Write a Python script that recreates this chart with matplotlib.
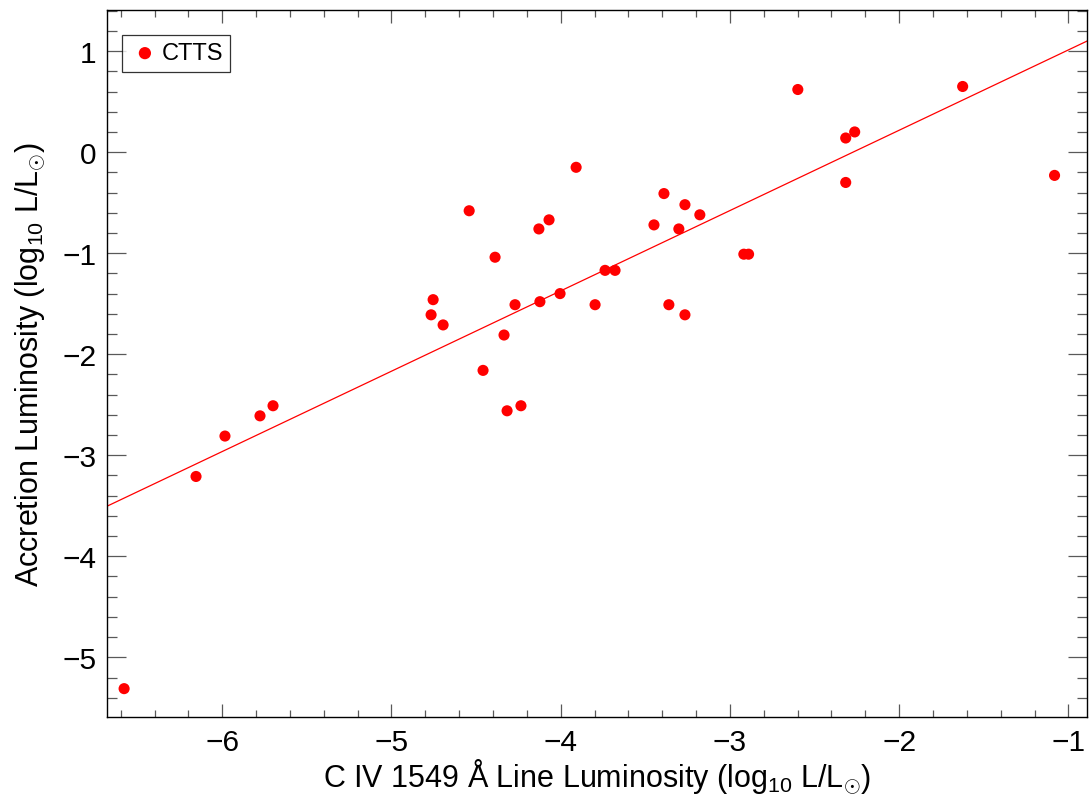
import matplotlib
matplotlib.use("Agg")
import matplotlib.pyplot as plt
from matplotlib.ticker import MultipleLocator
import numpy as np

# C IV 1549 A line luminosity (log10 L/Lsun)
civ_lum = [-6.58, -6.155, -5.984, -5.777, -5.700, -4.766, -4.754, -4.695, -4.541,
           -4.459, -4.388, -4.335, -4.317, -4.270, -4.235, -4.129, -4.123, -4.069,
           -4.004, -3.909, -3.797, -3.738, -3.679, -3.449, -3.390, -3.361, -3.302,
           -3.266, -3.266, -3.178, -2.918, -2.890, -2.599, -2.316, -2.316, -2.263,
           -1.625, -1.082]
# Accretion luminosity (log10 L/Lsun)
acc_lum = [-5.31, -3.21, -2.81, -2.61, -2.51, -1.61, -1.46, -1.71, -0.58,
           -2.16, -1.04, -1.81, -2.56, -1.51, -2.51, -0.76, -1.48, -0.67,
           -1.40, -0.15, -1.51, -1.17, -1.17, -0.72, -0.41, -1.51, -0.76,
           -0.52, -1.61, -0.62, -1.01, -1.01, 0.62, 0.14, -0.30, 0.20,
           0.65, -0.23]
# best-fit relation
fit_slope = 0.795
fit_intercept = 1.807

plt.rcParams['font.family'] = ['Liberation Sans', 'DejaVu Sans']
plt.rcParams['mathtext.fontset'] = 'custom'
plt.rcParams['mathtext.rm'] = 'Liberation Sans'
plt.rcParams['mathtext.it'] = 'Liberation Sans'

fig = plt.figure(figsize=(10.89, 8.04), dpi=100)
ax = fig.add_axes([0.0978, 0.1073, 0.9004, 0.8794])

xlim = (-6.684, -0.89)
ylim = (-5.588, 1.41)

ax.scatter(civ_lum, acc_lum, s=64, color='#ff0000', edgecolors='none',
           label='CTTS', zorder=3)
xx = np.array(xlim)
ax.plot(xx, fit_slope * xx + fit_intercept, color='#ff0000', lw=0.9, zorder=2)

ax.set_xlim(*xlim)
ax.set_ylim(*ylim)

ax.xaxis.set_major_locator(MultipleLocator(1))
ax.xaxis.set_minor_locator(MultipleLocator(0.2))
ax.yaxis.set_major_locator(MultipleLocator(1))
ax.yaxis.set_minor_locator(MultipleLocator(0.2))

ax.tick_params(axis='both', which='both', direction='in', top=True, right=True,
               color='0.35', width=0.9, labelsize=21.5)
ax.tick_params(axis='x', which='major', length=9.4, pad=8)
ax.tick_params(axis='x', which='minor', length=5)
ax.tick_params(axis='y', which='major', length=13.7, pad=7)
ax.tick_params(axis='y', which='minor', length=7.2)
for sp in ax.spines.values():
    sp.set_linewidth(1.0)
    sp.set_color('black')

ax.set_xlabel('C IV 1549 Å Line Luminosity (log$_{10}$ L/L$_{\\odot}$)',
              fontsize=22, labelpad=0)
ax.set_ylabel('Accretion Luminosity (log$_{10}$ L/L$_{\\odot}$)',
              fontsize=22, labelpad=11)

leg = ax.legend(loc='upper left', bbox_to_anchor=(0.0158, 0.9645), fontsize=17,
                frameon=True, fancybox=False, edgecolor='black',
                handletextpad=0.05, borderpad=0.32, handlelength=1.3,
                borderaxespad=0, scatterpoints=1, markerscale=1.1)
leg.get_frame().set_linewidth(0.9)

fig.savefig('out.png', dpi=100)
